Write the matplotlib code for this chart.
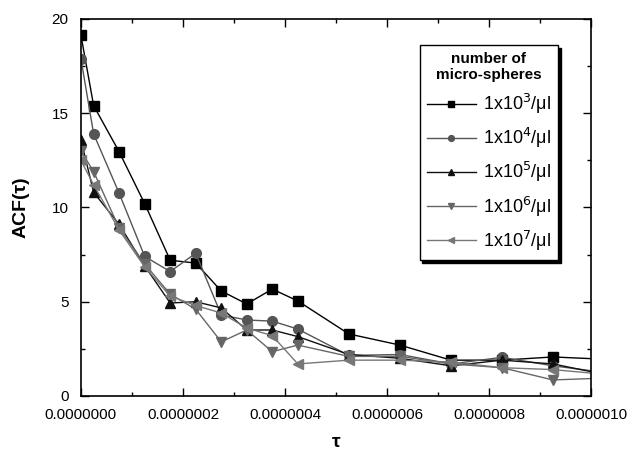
import matplotlib

matplotlib.use("Agg")
import matplotlib.pyplot as plt
from matplotlib.ticker import FormatStrFormatter, MultipleLocator

plt.rcParams["font.family"] = ["Liberation Sans", "DejaVu Sans"]

# lag times (s); last point lies just past the right edge and is clipped
tau = [0.0, 2.5e-8, 7.5e-8, 1.25e-7, 1.75e-7, 2.25e-7, 2.75e-7, 3.25e-7,
       3.75e-7, 4.25e-7, 5.25e-7, 6.25e-7, 7.25e-7, 8.25e-7, 9.25e-7, 1.025e-6]

acf_1e3 = [19.15, 15.4, 12.95, 10.2, 7.2, 7.05, 5.57, 4.88,
           5.67, 5.04, 3.29, 2.7, 1.9, 1.9, 2.07, 1.95]
acf_1e4 = [17.9, 13.9, 10.75, 7.4, 6.6, 7.57, 4.3, 4.03,
           3.97, 3.55, 2.15, 2.2, 1.7, 2.05, 1.6, 1.25]
acf_1e5 = [13.6, 10.8, 9.1, 6.9, 4.93, 5.0, 4.67, 3.5,
           3.5, 3.15, 2.2, 2.0, 1.6, 1.9, 1.7, 1.15]
acf_1e6 = [13.0, 11.9, 8.9, 7.0, 5.4, 4.6, 2.87, 3.5,
           2.35, 2.7, 2.1, 2.1, 1.7, 1.5, 0.85, 0.95]
acf_1e7 = [12.5, 11.2, 8.8, 6.85, 5.3, 4.8, 4.4, 3.6,
           3.2, 1.7, 1.9, 1.9, 1.8, 1.5, 1.4, 1.15]

labels = ["1x10$^{3}$/μl", "1x10$^{4}$/μl", "1x10$^{5}$/μl",
          "1x10$^{6}$/μl", "1x10$^{7}$/μl"]
series = [acf_1e3, acf_1e4, acf_1e5, acf_1e6, acf_1e7]
styles = [("s", "#000000"), ("o", "#555555"), ("^", "#111111"),
          ("v", "#666666"), ("<", "#777777")]

fig = plt.figure(figsize=(6.42, 4.51), dpi=100)
ax = fig.add_axes([0.126, 0.122, 0.795, 0.836])

for values, label, (marker, color) in zip(series, labels, styles):
    ax.plot(tau, values, marker=marker, color=color, markersize=7,
            linewidth=1.0, label=label)

ax.set_xlim(0, 1.0e-6)
ax.set_ylim(0, 20)
ax.xaxis.set_major_locator(MultipleLocator(2e-7))
ax.xaxis.set_minor_locator(MultipleLocator(1e-7))
ax.yaxis.set_major_locator(MultipleLocator(5))
ax.yaxis.set_minor_locator(MultipleLocator(2.5))
ax.xaxis.set_major_formatter(FormatStrFormatter("%.7f"))
ax.tick_params(which="both", direction="in", top=True, right=True,
               labelsize=11, width=1.0)
ax.tick_params(which="major", length=6)
ax.tick_params(which="minor", length=3)
ax.tick_params(axis="x", pad=9)
ax.tick_params(axis="y", pad=9)
for spine in ax.spines.values():
    spine.set_linewidth(1.2)

ax.set_xlabel("τ", fontsize=14, fontweight="bold", labelpad=8)
ax.set_ylabel("ACF(τ)", fontsize=14, fontweight="bold", labelpad=16)

leg = ax.legend(loc="upper right", bbox_to_anchor=(0.935, 0.931),
                borderaxespad=0, fontsize=13, handlelength=2.7,
                handletextpad=0.4, markerscale=0.6,
                title="number of\nmicro-spheres",
                title_fontproperties={"weight": "bold", "size": 11},
                alignment="center",
                fancybox=False, edgecolor="black", framealpha=1,
                shadow={"color": "black", "alpha": 1.0},
                labelspacing=0.55, borderpad=0.4)
leg.get_title().set_multialignment("center")
leg.get_frame().set_linewidth(1.0)

fig.savefig("out.png", dpi=100)
